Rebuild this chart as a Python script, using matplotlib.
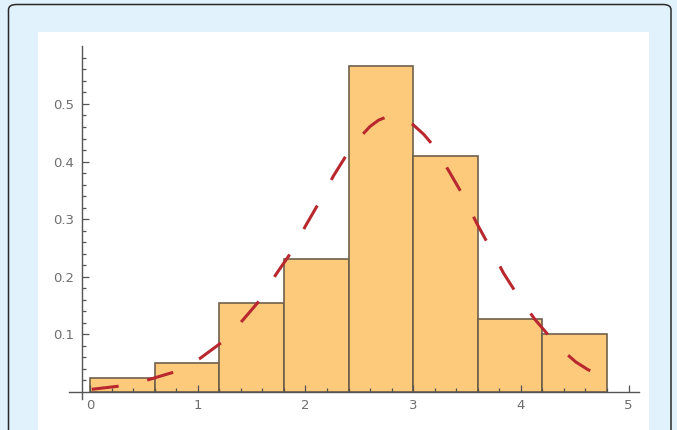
#!/usr/bin/env python3

import numpy as np
from matplotlib import pyplot as plt
from matplotlib.patches import FancyBboxPatch, Rectangle

# histogram (density)
bin_edges = [0.0, 0.6, 1.2, 1.8, 2.4, 3.0, 3.6, 4.2, 4.8]
heights = [0.0236, 0.0497, 0.154, 0.230, 0.566, 0.409, 0.126, 0.100]

# dashed density curve
curve_x = [0.016, 0.27, 0.54, 0.79, 1.02, 1.23, 1.42, 1.58, 1.73, 1.87,
           2.00, 2.13, 2.26, 2.40, 2.50, 2.60, 2.68, 2.76, 2.84, 2.92,
           3.00, 3.10, 3.20, 3.34, 3.47, 3.59, 3.71, 3.84, 3.98, 4.13,
           4.30, 4.40, 4.51, 4.62, 4.73]
curve_y = [0.0045, 0.010, 0.021, 0.035, 0.058, 0.087, 0.125, 0.160, 0.205, 0.243,
           0.288, 0.330, 0.375, 0.417, 0.441, 0.461, 0.472, 0.478, 0.478, 0.473,
           0.464, 0.447, 0.425, 0.381, 0.339, 0.293, 0.252, 0.206, 0.165, 0.126,
           0.089, 0.070, 0.052, 0.039, 0.029]

x_ticks = [0, 1, 2, 3, 4, 5]
y_ticks = [0.1, 0.2, 0.3, 0.4, 0.5]

W, H = 677, 430
fig = plt.figure(figsize=(W / 100, H / 100), dpi=100)
fig.patch.set_facecolor("#e1f2fc")

# outer rounded frame and white panel (pixel coords -> figure fraction)
def px(x0, y0, x1, y1):
    return x0 / W, 1 - y1 / H, (x1 - x0) / W, (y1 - y0) / H

l, b, w, h = px(8.5, 4.5, 671, 445)
fig.patches.append(FancyBboxPatch((l, b), w, h, boxstyle="round,pad=0,rounding_size=0.012",
                                  transform=fig.transFigure, facecolor="#e1f2fc",
                                  edgecolor="#2b2b2b", linewidth=1.1, zorder=0))
l, b, w, h = px(37.5, 32, 649, 445)
fig.patches.append(Rectangle((l, b), w, h, transform=fig.transFigure,
                             facecolor="white", edgecolor="none", zorder=0.5))

ax = fig.add_axes(px(68.5, 46.4, 639.3, 398.8))
ax.set_zorder(2)
ax.patch.set_alpha(0)

ax.bar(bin_edges[:-1], heights, width=np.diff(bin_edges), align="edge",
       color="#fdca7c", edgecolor="#6f604a", linewidth=1.2, zorder=1)

plt.rcParams["lines.scale_dashes"] = False
ax.plot(curve_x, curve_y, color="#b8282e", linewidth=2.2,
        dashes=(19.5, 21), dash_capstyle="butt", zorder=3)

ax.set_xlim(-0.2, 5.1)
ax.set_ylim(-0.012, 0.6)

for s in ["top", "right"]:
    ax.spines[s].set_visible(False)
ax.spines["left"].set_position(("data", -0.077))
ax.spines["bottom"].set_position(("data", 0))
for s in ["left", "bottom"]:
    ax.spines[s].set_color("#555555")
    ax.spines[s].set_linewidth(1.0)
    ax.spines[s].set_zorder(4)

ax.set_xticks(x_ticks)
ax.set_xticklabels([str(t) for t in x_ticks])
ax.set_xticks(np.arange(0, 5.01, 0.2), minor=True)
ax.set_yticks(y_ticks)
ax.set_yticklabels([f"{t:.1f}" for t in y_ticks])
ax.set_yticks(np.arange(0.02, 0.59, 0.02), minor=True)

ax.tick_params(which="both", direction="in", color="#555555", width=0.9,
               labelcolor="#6e6e6e", labelsize=9.5)
ax.tick_params(which="major", length=5)
ax.tick_params(which="minor", length=2.8)
ax.tick_params(axis="x", pad=5)
ax.tick_params(axis="y", pad=5.5)

plt.savefig("out.png", dpi=100, facecolor=fig.get_facecolor())
